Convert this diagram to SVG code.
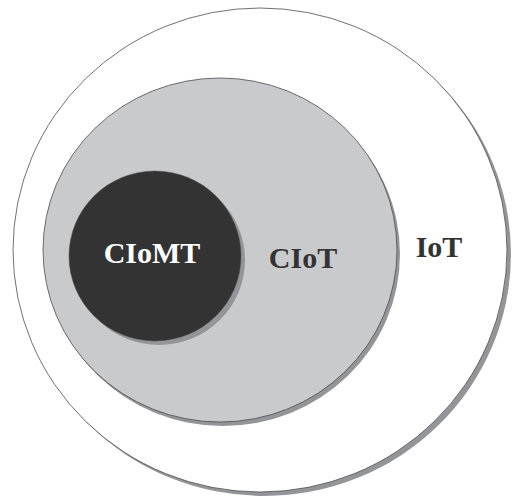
<svg xmlns="http://www.w3.org/2000/svg" width="513" height="500" viewBox="0 0 513 500">
<style>
.sh{fill:#939598;stroke:none}
.ln{stroke:#4d4d4f;stroke-width:0.8}
.lbl{font-family:"Liberation Serif","Times New Roman",serif;font-weight:bold;font-size:30px;text-anchor:middle}
</style>
<rect width="513" height="500" fill="#ffffff"/>
<g id="iot">
<ellipse class="sh" cx="264" cy="254" rx="247" ry="242"/>
<ellipse class="ln" cx="260" cy="250" rx="247" ry="242" fill="#ffffff"/>
<text class="lbl" x="439" y="257" fill="#333333">IoT</text>
</g>
<g id="ciot">
<ellipse class="sh" cx="223" cy="254" rx="177" ry="172"/>
<ellipse class="ln" cx="220" cy="250" rx="177" ry="172" fill="#c9cacc"/>
<text class="lbl" x="303" y="268" fill="#333333">CIoT</text>
</g>
<g id="ciomt">
<ellipse class="sh" cx="159" cy="260" rx="86" ry="85"/>
<ellipse cx="155" cy="256" rx="86" ry="85" fill="#333333" stroke="#4d4d4f" stroke-width="0.5"/>
<text class="lbl" x="152" y="263" fill="#ffffff">CIoMT</text>
</g>
<g id="connectors"/>
</svg>
